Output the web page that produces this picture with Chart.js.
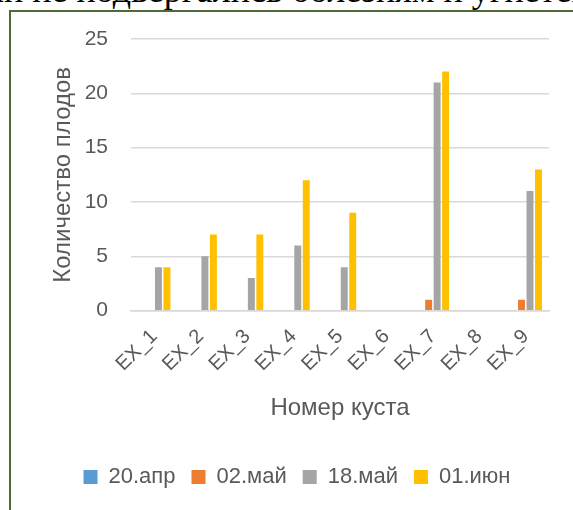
<!DOCTYPE html>
<html>
<head>
<meta charset="utf-8">
<script src="https://cdn.jsdelivr.net/npm/chart.js@4.4.1/dist/chart.umd.min.js"></script>
<style>
  html, body { margin: 0; padding: 0; background: #fff; overflow: hidden; }
  body { width: 573px; height: 510px; position: relative; }
  #lead {
    position: absolute; left: -14px; top: -30px; white-space: nowrap; line-height: 40px;
    font-family: "Liberation Serif", "Times New Roman", serif; font-size: 36px; color: #000;
  }
  #frame {
    position: absolute; left: 9px; top: 10px; width: 600px; height: 520px;
    border-left: 2px solid #4f6b34; border-top: 2px solid #4f6b34;
  }
  #wrap { position: absolute; left: 11px; top: 12px; width: 575px; height: 498px; }
</style>
</head>
<body>
<div id="lead">ли не подвергались болезням и угнетению</div>
<div id="frame"></div>
<div id="wrap"><canvas id="c" width="575" height="498"></canvas></div>
<script>
// Bushes and the four counting dates
const bushes = ['EX_1', 'EX_2', 'EX_3', 'EX_4', 'EX_5', 'EX_6', 'EX_7', 'EX_8', 'EX_9'];
const dates = ['20.апр', '02.май', '18.май', '01.июн'];

// Number of fruits per bush on each date
const apr20 = [0, 0, 0, 0, 0, 0, 0, 0, 0];
const may02 = [0, 0, 0, 0, 0, 0, 1, 0, 1];
const may18 = [4, 5, 3, 6, 4, 0, 21, 0, 11];
const jun01 = [4, 7, 7, 12, 9, 0, 22, 0, 13];

const yTicks = [0, 5, 10, 15, 20, 25];
const palette = ['#5B9BD5', '#ED7D31', '#A5A5A5', '#FFC000'];

const series = [apr20, may02, may18, jun01];
const FONT = '"Liberation Sans", Arial, sans-serif';
const TEXT = '#595959';

new Chart(document.getElementById('c'), {
  type: 'bar',
  data: {
    labels: bushes,
    datasets: series.map((vals, i) => ({
      label: dates[i],
      data: vals,
      backgroundColor: palette[i],
      borderWidth: 0,
      categoryPercentage: 0.73,
      barPercentage: 0.82
    }))
  },
  options: {
    responsive: false,
    animation: false,
    layout: { padding: { left: 0, right: 3, top: 27, bottom: 12 } },
    plugins: {
      tooltip: { enabled: false },
      legend: {
        position: 'bottom',
        labels: {
          boxWidth: 14, boxHeight: 14, padding: 16,
          color: TEXT, font: { family: FONT, size: 22 }
        }
      }
    },
    scales: {
      x: {
        grid: { display: false },
        border: { display: true, color: '#d9d9d9', width: 1.5 },
        ticks: {
          color: TEXT, font: { family: FONT, size: 20 },
          minRotation: 45, maxRotation: 45, autoSkip: false, padding: 6
        },
        title: {
          display: true, text: 'Номер куста', color: TEXT,
          font: { family: FONT, size: 24 }, padding: { top: 12, bottom: 27 }
        }
      },
      y: {
        min: 0, max: 25,
        afterBuildTicks: s => { s.ticks = yTicks.map(v => ({ value: v })); },
        afterFit: s => { s.width = 120; },
        // invisible tick marks keep the labels clear of the plot
        grid: { color: '#d9d9d9', lineWidth: 1.5, drawTicks: true, tickLength: 21, tickColor: 'rgba(0,0,0,0)' },
        border: { display: false },
        ticks: { color: TEXT, font: { family: FONT, size: 21 }, padding: 2 },
        title: {
          display: true, text: 'Количество плодов', color: TEXT,
          font: { family: FONT, size: 24 }, padding: { top: 38, bottom: 0 }
        }
      },
      // empty right-hand margin beside the plot
      yRight: {
        position: 'right',
        display: true,
        afterFit: s => { s.width = 34; },
        grid: { display: false },
        border: { display: false },
        ticks: { display: false }
      }
    }
  }
});
</script>
</body>
</html>
